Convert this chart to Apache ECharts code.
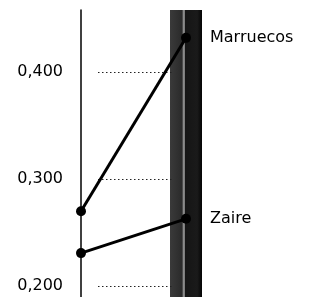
<!DOCTYPE html>
<html>
<head>
<meta charset="utf-8">
<script src="https://cdn.jsdelivr.net/npm/echarts@6/dist/echarts.min.js"></script>
<style>
  html, body { margin: 0; padding: 0; background: #fff; }
  #chart { width: 310px; height: 297px; }
</style>
</head>
<body>
<div id="chart"></div>
<script>
// dos momentos: izquierda y banda derecha
const categories = ['inicio', 'fin'];
const marruecos = [0.270, 0.432];
const zaire = [0.231, 0.263];
const tickValues = [0.2, 0.3, 0.4];
const yMin = 0.19;
const yMax = 0.458;

const chart = echarts.init(document.getElementById('chart'));

const labelFont = { fontFamily: 'DejaVu Sans', fontSize: 16, color: '#000' };

const lineSeries = (name, data) => ({
  name: name,
  type: 'line',
  data: data,
  symbol: 'circle',
  symbolSize: 10,
  itemStyle: { color: '#000' },
  lineStyle: { color: '#000', width: 3 },
  z: 5,
  endLabel: {
    show: true,
    formatter: name,
    distance: 24,
    ...labelFont
  },
  animation: false
});

const option = {
  animation: false,
  grid: [
    { left: 81, right: 124, top: 10, bottom: 0 },
    // solo para las líneas punteadas de referencia
    { left: 98, right: 138, top: 10, bottom: 0 }
  ],
  xAxis: [
    { type: 'category', data: categories, boundaryGap: false, show: false, gridIndex: 0 },
    { type: 'value', min: 0, max: 1, show: false, gridIndex: 1 }
  ],
  yAxis: [
    {
      type: 'value',
      min: yMin,
      max: yMax,
      gridIndex: 0,
      axisLine: { show: true, lineStyle: { color: '#000', width: 1.5 } },
      axisTick: { show: false },
      splitLine: { show: false },
      axisLabel: {
        customValues: tickValues,
        margin: 18,
        formatter: v => v.toFixed(3).replace('.', ','),
        ...labelFont
      }
    },
    { type: 'value', min: yMin, max: yMax, show: false, gridIndex: 1 }
  ],
  series: [
    {
      // banda oscura a la derecha
      type: 'bar',
      data: ['-', yMax],
      barWidth: 32,
      clip: false,
      silent: true,
      z: 1,
      itemStyle: {
        color: {
          type: 'linear', x: 0, y: 0, x2: 1, y2: 0,
          colorStops: [
            { offset: 0, color: '#3a3a3a' },
            { offset: 0.38, color: '#2a2a2a' },
            { offset: 0.41, color: '#8a8a8a' },
            { offset: 0.45, color: '#8a8a8a' },
            { offset: 0.48, color: '#151515' },
            { offset: 0.85, color: '#1a1a1a' },
            { offset: 1, color: '#050505' }
          ]
        }
      }
    },
    {
      type: 'line',
      xAxisIndex: 1,
      yAxisIndex: 1,
      data: [],
      silent: true,
      markLine: {
        symbol: 'none',
        silent: true,
        label: { show: false },
        lineStyle: { color: '#222', width: 1, type: [1.5, 2.5] },
        data: tickValues.map(v => ({ yAxis: v }))
      }
    },
    lineSeries('Marruecos', marruecos),
    lineSeries('Zaire', zaire)
  ]
};

chart.setOption(option);
window.addEventListener('resize', () => chart.resize());
</script>
</body>
</html>
